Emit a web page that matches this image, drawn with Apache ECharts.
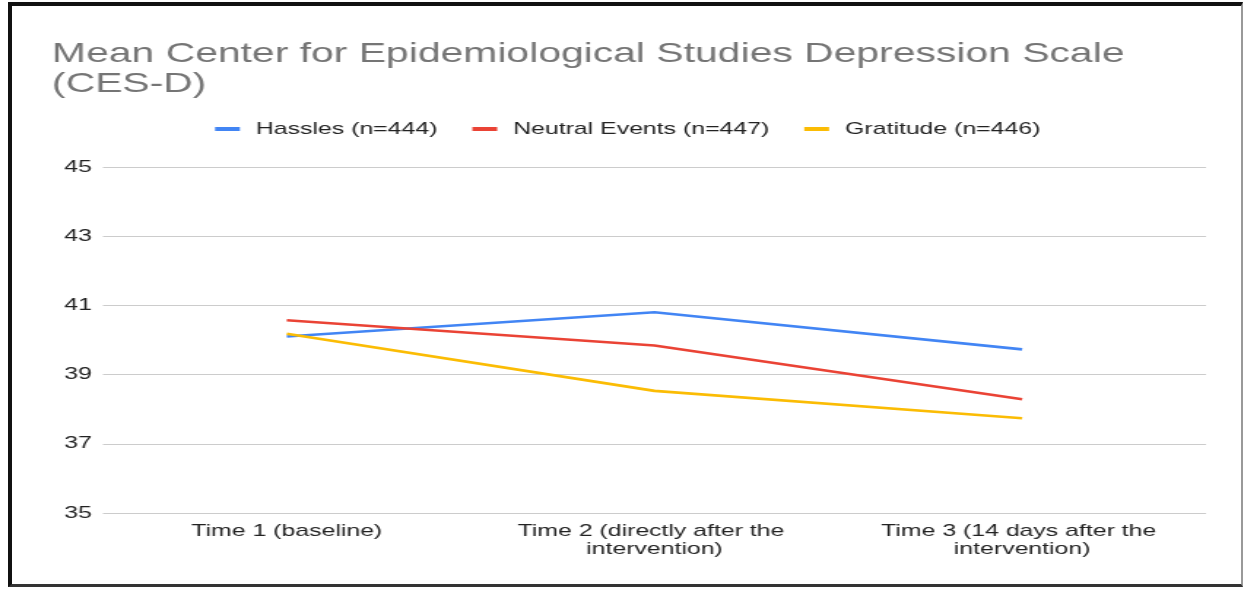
<!DOCTYPE html>
<html>
<head>
<meta charset="utf-8">
<script src="https://cdn.jsdelivr.net/npm/echarts@6/dist/echarts.min.js"></script>
<style>
  html, body { margin: 0; padding: 0; background: #ffffff; width: 1244px; height: 589px; overflow: hidden; }
  #chart { position: absolute; left: 0; top: 0; width: 852px; height: 589px; transform: scaleX(1.46); transform-origin: 0 0; }
  #frame { position: absolute; left: 8px; top: 2px; width: 1235px; height: 585px; box-sizing: border-box;
           border-top: 4px solid #111; border-left: 4px solid #111; border-bottom: 3px solid #333; border-right: 2px solid #999;
           pointer-events: none; z-index: 2; }
</style>
</head>
<body>
<div id="chart"></div>
<div id="frame"></div>
<script>
const titleText = 'Mean Center for Epidemiological Studies Depression Scale\n(CES-D)';
const categories = ['Time 1 (baseline)', 'Time 2 (directly after the intervention)', 'Time 3 (14 days after the intervention)'];
const seriesNames = ['Hassles (n=444)', 'Neutral Events (n=447)', 'Gratitude (n=446)'];
const hassles = [40.1, 40.8, 39.73];
const neutral = [40.57, 39.84, 38.29];
const gratitude = [40.18, 38.53, 37.74];
const yTicks = [35, 37, 39, 41, 43, 45];
const colors = ['#4285F4', '#EA4335', '#FBBC04'];

const font = '"Liberation Sans", Arial, sans-serif';
const chart = echarts.init(document.getElementById('chart'), null, { renderer: 'canvas' });
const values = [hassles, neutral, gratitude];

chart.setOption({
  animation: false,
  backgroundColor: 'transparent',
  color: colors,
  title: {
    text: titleText,
    left: 35.6,
    top: 39,
    padding: 0,
    textStyle: { fontFamily: font, fontSize: 28, fontWeight: 'normal', color: '#757575', lineHeight: 30 }
  },
  legend: {
    left: 147.3,
    top: 119,
    padding: 0,
    itemWidth: 17,
    itemHeight: 4,
    itemGap: 24,
    icon: 'rect',
    data: seriesNames,
    textStyle: { fontFamily: font, fontSize: 17, color: '#222222', lineHeight: 20, padding: [0, 0, 0, 6] }
  },
  grid: { left: 70.5, right: 26, top: 167, bottom: 76, containLabel: false },
  xAxis: {
    type: 'category',
    data: categories,
    boundaryGap: true,
    axisLine: { show: false },
    axisTick: { show: false },
    axisLabel: {
      fontFamily: font, fontSize: 17, color: '#222222', margin: 9, lineHeight: 18.5,
      width: 200, overflow: 'break', interval: 0, align: 'center'
    }
  },
  yAxis: {
    type: 'value',
    min: yTicks[0],
    max: yTicks[yTicks.length - 1],
    interval: 2,
    axisLine: { show: false },
    axisTick: { show: false },
    axisLabel: { fontFamily: font, fontSize: 17, color: '#222222', margin: 7.5 },
    splitLine: { lineStyle: { color: '#cccccc', width: 1.2 } }
  },
  series: seriesNames.map((name, i) => ({
    name: name,
    type: 'line',
    data: values[i],
    showSymbol: false,
    symbol: 'none',
    lineStyle: { width: 2.6, color: colors[i] },
    itemStyle: { color: colors[i] }
  }))
});
</script>
</body>
</html>
